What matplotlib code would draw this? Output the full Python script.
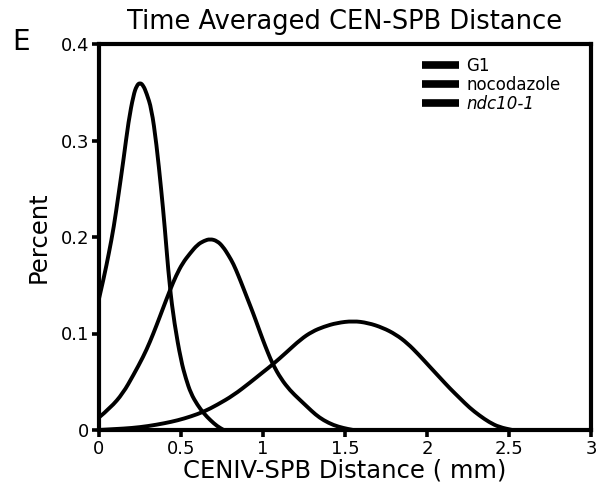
import matplotlib
matplotlib.use("Agg")
import matplotlib.pyplot as plt
from matplotlib.lines import Line2D
from matplotlib.path import Path
from matplotlib.patches import PathPatch

# ---- data ----
g1_x = [0.00, 0.03, 0.06, 0.09, 0.12, 0.15, 0.18, 0.21, 0.23, 0.25, 0.27, 0.29,
        0.32, 0.35, 0.38, 0.40, 0.43, 0.46, 0.50, 0.53, 0.56, 0.60, 0.64, 0.68,
        0.72, 0.76]
g1_y = [0.136, 0.158, 0.183, 0.210, 0.245, 0.281, 0.320, 0.347, 0.357, 0.360,
        0.357, 0.349, 0.333, 0.297, 0.248, 0.212, 0.150, 0.110, 0.072, 0.053,
        0.038, 0.026, 0.017, 0.010, 0.004, 0.000]

noc_x = [0.00, 0.07, 0.146, 0.21, 0.27, 0.31, 0.35, 0.39, 0.433, 0.47, 0.51,
         0.555, 0.60, 0.64, 0.677, 0.72, 0.756, 0.79, 0.82, 0.85, 0.878, 0.91,
         0.94, 0.97, 1.00, 1.03, 1.06, 1.11, 1.165, 1.22, 1.27, 1.32, 1.37,
         1.43, 1.49, 1.55]
noc_y = [0.013, 0.023, 0.038, 0.057, 0.076, 0.091, 0.108, 0.126, 0.145, 0.160,
         0.173, 0.183, 0.192, 0.196, 0.198, 0.196, 0.190, 0.181, 0.172, 0.160,
         0.148, 0.134, 0.121, 0.107, 0.093, 0.080, 0.068, 0.053, 0.041, 0.032,
         0.024, 0.016, 0.010, 0.005, 0.002, 0.000]

ndc_x = [0.00, 0.10, 0.20, 0.30, 0.40, 0.48, 0.56, 0.64, 0.72, 0.82, 0.92, 1.00,
         1.06, 1.14, 1.23, 1.30, 1.37, 1.45, 1.55, 1.64, 1.73, 1.81, 1.88, 1.95,
         2.02, 2.08, 2.14, 2.20, 2.26, 2.32, 2.38, 2.44, 2.52]
ndc_y = [0.000, 0.001, 0.002, 0.004, 0.007, 0.010, 0.014, 0.019, 0.026, 0.036,
         0.049, 0.060, 0.068, 0.080, 0.094, 0.102, 0.107, 0.111, 0.113, 0.111,
         0.106, 0.099, 0.090, 0.078, 0.065, 0.054, 0.043, 0.033, 0.023, 0.015,
         0.008, 0.003, 0.000]

series_labels = ["G1", "nocodazole", "ndc10-1"]
x_ticks = [0, 0.5, 1, 1.5, 2, 2.5, 3]
x_tick_labels = ["0", "0.5", "1", "1.5", "2", "2.5", "3"]
y_ticks = [0, 0.1, 0.2, 0.3, 0.4]
y_tick_labels = ["0", "0.1", "0.2", "0.3", "0.4"]

plt.rcParams['font.family'] = ['DejaVu Sans']

fig = plt.figure(figsize=(6.09, 4.99), dpi=100)
ax = fig.add_axes([99/609, 1 - 430/499, (591-99)/609, (430-44)/499])


def smooth_curve(ax, xs, ys, lw):
    """Draw the read points as a smooth quadratic-Bezier path in data space."""
    pts = list(zip(xs, ys))
    verts = [pts[0]]
    codes = [Path.MOVETO]
    for i in range(1, len(pts) - 1):
        mid = ((pts[i][0] + pts[i + 1][0]) / 2, (pts[i][1] + pts[i + 1][1]) / 2)
        verts += [pts[i], mid]
        codes += [Path.CURVE3, Path.CURVE3]
    verts.append(pts[-1])
    codes.append(Path.LINETO)
    patch = PathPatch(Path(verts, codes), facecolor='none', edgecolor='black',
                      lw=lw, capstyle='round', joinstyle='round',
                      transform=ax.transData, clip_on=True)
    ax.add_patch(patch)


lw = 2.8
smooth_curve(ax, g1_x, g1_y, lw)
smooth_curve(ax, noc_x, noc_y, lw)
smooth_curve(ax, ndc_x, ndc_y, lw)

ax.set_xlim(0, 3)
ax.set_ylim(0, 0.4)
ax.set_xticks(x_ticks)
ax.set_xticklabels(x_tick_labels)
ax.set_yticks(y_ticks)
ax.set_yticklabels(y_tick_labels)
ax.tick_params(axis='both', direction='out', length=5, width=2.6, labelsize=13,
               colors='black', pad=2)
for s in ax.spines.values():
    s.set_linewidth(3.0)
    s.set_color('black')

ax.set_xlabel("CENIV-SPB Distance ( mm)", fontsize=17.5, labelpad=0.5)
ax.set_ylabel("Percent", fontsize=17.5, labelpad=7)
ax.set_title("Time Averaged CEN-SPB Distance", fontsize=18.5, pad=11)

handles = [Line2D([0], [0], color='black', lw=5.5, solid_capstyle='butt') for _ in series_labels]
leg = ax.legend(handles, series_labels, loc='upper right', frameon=False,
                fontsize=12, handlelength=2.2, handletextpad=0.45, labelspacing=0.05,
                bbox_to_anchor=(0.968, 1.005))
leg.get_texts()[2].set_fontstyle('italic')

fig.text(12/609, 1 - 42/499, "E", fontsize=20, ha='left', va='center')

fig.savefig("out.png", dpi=100)
